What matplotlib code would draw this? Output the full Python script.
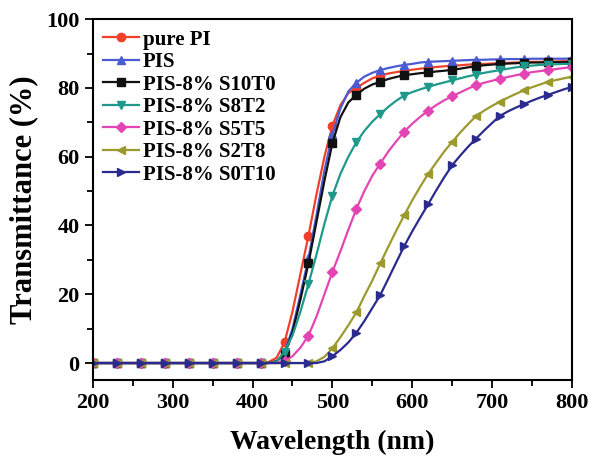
import matplotlib
matplotlib.use('Agg')
import matplotlib.pyplot as plt
from matplotlib.ticker import MultipleLocator

plt.rcParams['font.family'] = ['Liberation Serif', 'DejaVu Serif']
plt.rcParams['font.weight'] = 'bold'

# wavelength grid (nm): coarse on the flat part, 10 nm through the edge
wavelength = [200, 230, 260, 290, 320, 350, 380] + list(range(390, 801, 10))

flat = [0, 0, 0, 0, 0, 0, 0]  # 200..380 nm

pure_pi = flat + [0, 0, 0, 0.3, 1.5, 6, 15, 26, 37, 49,
                  60, 69, 75, 78.5, 80, 81.5, 82.8, 83.6, 84.2, 84.6,
                  85, 85.3, 85.6, 85.9, 86.1, 86.3, 86.5, 86.6, 86.8, 86.9,
                  87, 87.1, 87.2, 87.3, 87.4, 87.5, 87.6, 87.6, 87.7, 87.7,
                  87.8, 87.8]
pis = flat + [0, 0, 0, 0, 0.5, 3, 10, 20, 30.5, 43,
              56, 66.5, 74, 79, 81.5, 83.3, 84.4, 85.2, 85.8, 86.3,
              86.7, 87, 87.4, 87.6, 87.7, 87.8, 87.9, 88, 88.1, 88.2,
              88.2, 88.3, 88.3, 88.4, 88.4, 88.4, 88.5, 88.5, 88.5, 88.5,
              88.5, 88.6]
s10t0 = flat + [0, 0, 0, 0, 0.5, 2.5, 9, 18.5, 29, 41,
                53, 64, 71.5, 75.8, 78, 79.8, 81, 81.8, 82.6, 83.2,
                83.7, 84, 84.3, 84.5, 84.8, 85, 85.3, 85.6, 86, 86.3,
                86.6, 86.8, 87, 87.1, 87.2, 87.3, 87.4, 87.4, 87.5, 87.5,
                87.5, 87.6]
s8t2 = flat + [0, 0, 0, 0, 0.3, 3.3, 8, 15, 23, 31.5,
               40.5, 48.7, 55, 60, 64.2, 67.5, 70.2, 72.4, 74.5, 76.3,
               77.8, 78.8, 79.6, 80.3, 81, 81.6, 82.2, 82.8, 83.4, 83.9,
               84.4, 84.8, 85.2, 85.6, 86, 86.3, 86.5, 86.7, 86.8, 86.9,
               87, 87]
s5t5 = flat + [0, 0, 0, 0, 0, 0.5, 2, 4.5, 8, 13.5,
               20, 26.5, 32.5, 38.8, 44.8, 50, 54.5, 58, 61.5, 64.5,
               67.3, 69.6, 71.6, 73.4, 75, 76.4, 77.6, 78.7, 79.8, 80.8,
               81.5, 82.1, 82.7, 83.2, 83.7, 84.2, 84.6, 84.9, 85.2, 85.5,
               85.8, 86]
s2t8 = flat + [0, 0, 0, 0, 0, 0, 0, 0, 0, 0.5,
               1.8, 4.3, 7.5, 11, 14.7, 19.5, 24, 29, 33.8, 38.5,
               43, 47.3, 51.3, 55, 58.3, 61.5, 64.3, 67, 69.5, 71.8,
               73.4, 74.8, 76, 77.2, 78.3, 79.3, 80.2, 81, 81.8, 82.3,
               82.8, 83.3]
s0t10 = flat + [0, 0, 0, 0, 0, 0, 0, 0, 0, 0,
                0.5, 2, 3.8, 6, 8.8, 12.2, 16, 19.8, 24.5, 29.3,
                34, 38.3, 42.3, 46.2, 50.2, 54, 57.5, 60.3, 62.9, 65.3,
                67.6, 69.8, 71.9, 73.2, 74.3, 75.3, 76.3, 77.2, 78, 78.8,
                79.6, 80.3]

labels = ['pure PI', 'PIS', 'PIS-8% S10T0', 'PIS-8% S8T2',
          'PIS-8% S5T5', 'PIS-8% S2T8', 'PIS-8% S0T10']
series = [pure_pi, pis, s10t0, s8t2, s5t5, s2t8, s0t10]
colors = ['#f0402a', '#4a5bd4', '#111111', '#1f9a8a',
          '#e346b4', '#9c9a2e', '#2b2a8e']
markers = ['o', '^', 's', 'v', 'D', '<', '>']

# symbols every 30 nm
mark_idx = [i for i, w in enumerate(wavelength) if (w - 200) % 30 == 0]

fig = plt.figure(figsize=(5.92, 4.57), dpi=100)
ax = fig.add_axes([0.157, 0.168, 0.809, 0.79])

for y, lab, c, m in zip(series, labels, colors, markers):
    ms = 5 if m == 'D' else 6
    ax.plot(wavelength, y, color=c, marker=m, markersize=ms, lw=1.6,
            markevery=mark_idx, label=lab)

ax.set_xlim(200, 800)
ax.set_ylim(-5, 100)
ax.xaxis.set_major_locator(MultipleLocator(100))
ax.xaxis.set_minor_locator(MultipleLocator(50))
ax.yaxis.set_major_locator(MultipleLocator(20))
ax.yaxis.set_minor_locator(MultipleLocator(10))
ax.tick_params(which='both', direction='out', top=False, right=False,
               width=1.3, labelsize=16)
ax.tick_params(which='major', length=6)
ax.tick_params(which='minor', length=4)
for s in ax.spines.values():
    s.set_linewidth(1.5)

ax.set_xlabel('Wavelength (nm)', fontsize=20, fontweight='bold', labelpad=12)
ax.set_ylabel('Transmittance (%)', fontsize=22, fontweight='bold', labelpad=6)

leg = ax.legend(loc='upper left', frameon=False, fontsize=15,
                handlelength=1.7, handletextpad=0.2, labelspacing=0.12,
                borderaxespad=0.1, borderpad=0.4)

fig.savefig('out.png', dpi=100)
